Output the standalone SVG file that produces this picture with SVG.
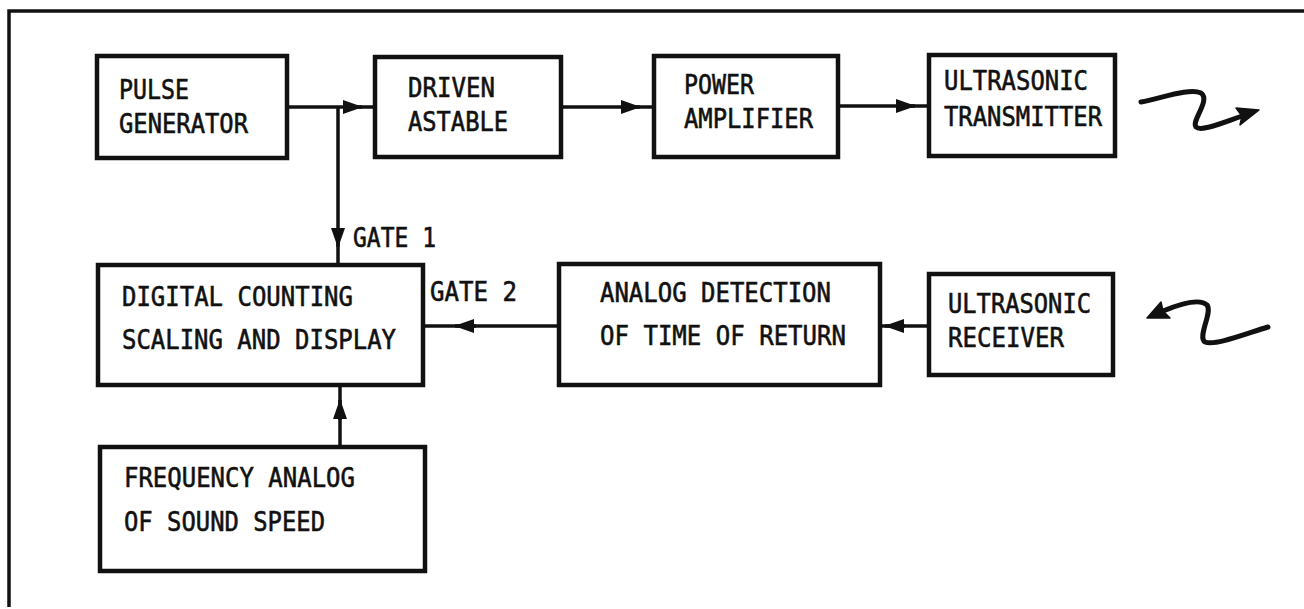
<svg xmlns="http://www.w3.org/2000/svg" width="1304" height="609" viewBox="0 0 1304 609">
<style>
.box{fill:none;stroke:#111;stroke-width:4.5}
.ln{fill:none;stroke:#111;stroke-width:3.5}
.sq{fill:none;stroke:#111;stroke-width:5;stroke-linecap:round;stroke-linejoin:round}
.sqh{fill:#111;stroke:#111;stroke-width:1.5;stroke-linejoin:round}
text{font-family:"DejaVu Sans Mono","Liberation Mono",monospace;font-size:27px;fill:#111;stroke:#111;stroke-width:0.6}
</style>
<defs>
<marker id="ah" markerUnits="userSpaceOnUse" markerWidth="20" markerHeight="16" refX="19" refY="8" orient="auto">
<path d="M0,1 L20,8 L0,15 Z" fill="#111"/>
</marker>
</defs>
<rect width="1304" height="609" fill="#fff"/>
<g id="frame">
<path class="ln" d="M9,607 L9,11 L1304,11"/>
</g>
<g id="connectors">
<path class="ln" d="M287,107 L375,107"/>
<path class="ln" d="M344,107 L362,107" marker-end="url(#ah)"/>
<path class="ln" d="M338,107 L338,265"/>
<path class="ln" d="M338,229 L338,247" marker-end="url(#ah)"/>
<path class="ln" d="M561,107 L654,107"/>
<path class="ln" d="M621,107 L640,107" marker-end="url(#ah)"/>
<path class="ln" d="M838,106 L929,106"/>
<path class="ln" d="M896,106 L915,106" marker-end="url(#ah)"/>
<path class="ln" d="M559,326 L423,326"/>
<path class="ln" d="M476,326 L455,326" marker-end="url(#ah)"/>
<path class="ln" d="M929,326 L880,326"/>
<path class="ln" d="M905,326 L885,326" marker-end="url(#ah)"/>
<path class="ln" d="M340,447 L340,385"/>
<path class="ln" d="M340,420 L340,400" marker-end="url(#ah)"/>
<path class="sq" d="M1141,102 C1165,97 1190,88 1201,93 C1211,100 1191,121 1196,127 C1201,132 1222,123 1242,116"/>
<polygon class="sqh" points="1259,110 1236,108 1242,116 1240,125"/>
<path class="sq" d="M1268,327 C1245,334 1215,346 1205,342 C1197,337 1213,312 1207,305 C1200,298 1180,304 1163,311"/>
<polygon class="sqh" points="1147,318 1161,302 1163,311 1170,318"/>
</g>
<g id="pulse-generator">
<rect class="box" x="97" y="56" width="190" height="102"/>
<text x="119" y="99" textLength="70" lengthAdjust="spacingAndGlyphs">PULSE</text>
<text x="119" y="133" textLength="129" lengthAdjust="spacingAndGlyphs">GENERATOR</text>
</g>
<g id="driven-astable">
<rect class="box" x="375" y="57" width="186" height="100"/>
<text x="408" y="97" textLength="87" lengthAdjust="spacingAndGlyphs">DRIVEN</text>
<text x="408" y="131" textLength="100" lengthAdjust="spacingAndGlyphs">ASTABLE</text>
</g>
<g id="power-amplifier">
<rect class="box" x="654" y="56" width="184" height="101"/>
<text x="684" y="94" textLength="70" lengthAdjust="spacingAndGlyphs">POWER</text>
<text x="684" y="128" textLength="129" lengthAdjust="spacingAndGlyphs">AMPLIFIER</text>
</g>
<g id="ultrasonic-transmitter">
<rect class="box" x="929" y="55" width="186" height="101"/>
<text x="944" y="90" textLength="144" lengthAdjust="spacingAndGlyphs">ULTRASONIC</text>
<text x="944" y="126" textLength="158" lengthAdjust="spacingAndGlyphs">TRANSMITTER</text>
</g>
<g id="gate1-label">
<text x="353" y="247" textLength="83" lengthAdjust="spacingAndGlyphs">GATE 1</text>
</g>
<g id="digital-counting">
<rect class="box" x="98" y="265" width="325" height="120"/>
<text x="122" y="306" textLength="231" lengthAdjust="spacingAndGlyphs">DIGITAL COUNTING</text>
<text x="122" y="349" textLength="274" lengthAdjust="spacingAndGlyphs">SCALING AND DISPLAY</text>
</g>
<g id="gate2-label">
<text x="430" y="301" textLength="87" lengthAdjust="spacingAndGlyphs">GATE 2</text>
</g>
<g id="analog-detection">
<rect class="box" x="559" y="264" width="321" height="121"/>
<text x="600" y="302" textLength="231" lengthAdjust="spacingAndGlyphs">ANALOG DETECTION</text>
<text x="600" y="345" textLength="246" lengthAdjust="spacingAndGlyphs">OF TIME OF RETURN</text>
</g>
<g id="ultrasonic-receiver">
<rect class="box" x="929" y="274" width="184" height="101"/>
<text x="948" y="313" textLength="143" lengthAdjust="spacingAndGlyphs">ULTRASONIC</text>
<text x="948" y="347" textLength="116" lengthAdjust="spacingAndGlyphs">RECEIVER</text>
</g>
<g id="frequency-analog">
<rect class="box" x="100" y="447" width="325" height="124"/>
<text x="124" y="487" textLength="231" lengthAdjust="spacingAndGlyphs">FREQUENCY ANALOG</text>
<text x="124" y="531" textLength="201" lengthAdjust="spacingAndGlyphs">OF SOUND SPEED</text>
</g>
</svg>
